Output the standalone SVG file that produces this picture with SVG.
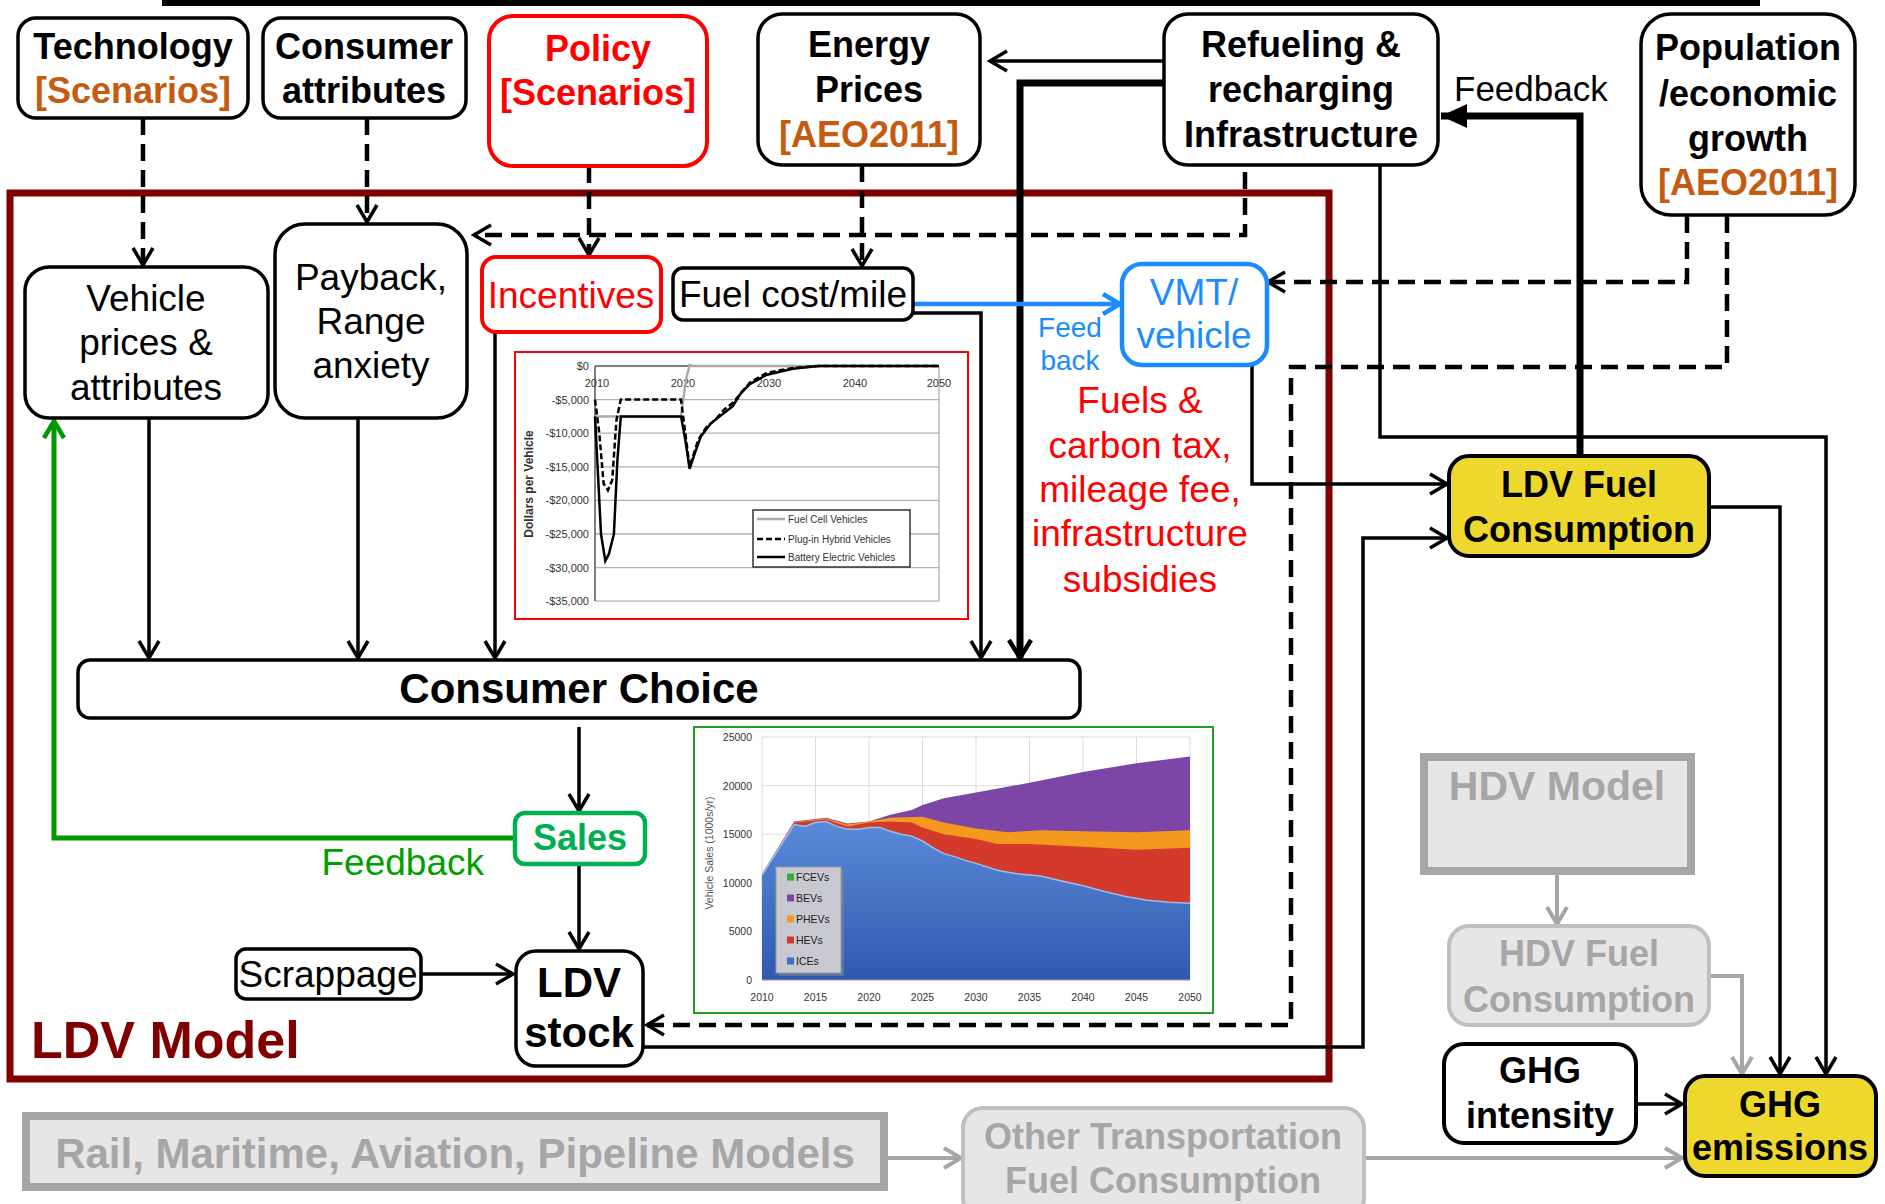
<svg xmlns="http://www.w3.org/2000/svg" width="1885" height="1204" viewBox="0 0 1885 1204">
<defs>
<style>
text{font-family:"Liberation Sans",Arial,sans-serif}
.bx{fill:#fff;stroke:#000;stroke-width:3.5}
.tb{font-weight:bold;font-size:36px;text-anchor:middle;fill:#000}
.tr{font-size:37px;text-anchor:middle;fill:#000}
.or{fill:#C55A11}
.red{fill:#FF0000}
.gt{fill:#A6A6A6;font-weight:bold;text-anchor:middle}
.ln{fill:none;stroke:#000;stroke-width:3.5}
.dash{fill:none;stroke:#000;stroke-width:4.5;stroke-dasharray:17 9}
.thick{fill:none;stroke:#000;stroke-width:7}
.gry{fill:none;stroke:#A6A6A6;stroke-width:4}
.ax{font-size:11px;fill:#333}
.ax2{font-size:10.5px;fill:#333}
.grid{stroke:#b0b0b0;stroke-width:1.3}
.grid2{stroke:#dcdcdc;stroke-width:1}
</style>
<marker id="ah" markerUnits="userSpaceOnUse" markerWidth="24" markerHeight="26" viewBox="0 0 24 26" refX="21" refY="13" orient="auto"><path d="M4,3 L21,13 L4,23" fill="none" stroke="#000" stroke-width="3.5"/></marker>
<marker id="ahk" markerUnits="userSpaceOnUse" markerWidth="26" markerHeight="28" viewBox="0 0 26 28" refX="22" refY="14" orient="auto"><path d="M4,3 L22,14 L4,25" fill="none" stroke="#000" stroke-width="4.5"/></marker>
<marker id="ahf" markerUnits="userSpaceOnUse" markerWidth="28" markerHeight="26" viewBox="0 0 28 26" refX="26" refY="13" orient="auto"><path d="M0,1 L26,13 L0,25 Z" fill="#000"/></marker>
<marker id="ahb" markerUnits="userSpaceOnUse" markerWidth="24" markerHeight="26" viewBox="0 0 24 26" refX="21" refY="13" orient="auto"><path d="M4,3 L21,13 L4,23" fill="none" stroke="#1A8CFF" stroke-width="4.5"/></marker>
<marker id="ahg" markerUnits="userSpaceOnUse" markerWidth="24" markerHeight="26" viewBox="0 0 24 26" refX="21" refY="13" orient="auto"><path d="M4,3 L21,13 L4,23" fill="none" stroke="#009900" stroke-width="4.5"/></marker>
<marker id="ahgr" markerUnits="userSpaceOnUse" markerWidth="24" markerHeight="26" viewBox="0 0 24 26" refX="21" refY="13" orient="auto"><path d="M4,3 L21,13 L4,23" fill="none" stroke="#A6A6A6" stroke-width="4"/></marker>
<linearGradient id="ice" x1="0" y1="0" x2="0" y2="1"><stop offset="0" stop-color="#5A8AD8"/><stop offset="1" stop-color="#3059AE"/></linearGradient>
</defs>
<rect x="0" y="0" width="1885" height="1204" fill="#fff"/>
<rect x="162" y="0" width="1598" height="6" fill="#000"/>

<!-- LDV model frame -->
<g id="ldv-model">
<rect x="10" y="193" width="1319" height="886" fill="none" stroke="#800000" stroke-width="7"/>
<text x="31" y="1058" font-size="52" font-weight="bold" fill="#800000">LDV Model</text>
</g>

<!-- Incentives chart -->
<g id="incentive-chart">
<rect x="515" y="352" width="453" height="267" fill="#fff" stroke="#FF0000" stroke-width="2"/>
<g class="grid">
<line x1="595" y1="399.6" x2="939" y2="399.6"/><line x1="595" y1="433.2" x2="939" y2="433.2"/><line x1="595" y1="466.8" x2="939" y2="466.8"/><line x1="595" y1="500.4" x2="939" y2="500.4"/><line x1="595" y1="534" x2="939" y2="534"/><line x1="595" y1="567.6" x2="939" y2="567.6"/><line x1="595" y1="601.2" x2="939" y2="601.2"/>
<line x1="939" y1="366" x2="939" y2="601"/>
</g>
<line x1="595" y1="366" x2="939" y2="366" stroke="#555" stroke-width="1.5"/>
<line x1="595" y1="366" x2="595" y2="601" stroke="#555" stroke-width="1.5"/>
<g class="ax" text-anchor="end">
<text x="589" y="370">$0</text><text x="589" y="403.6">-$5,000</text><text x="589" y="437.2">-$10,000</text><text x="589" y="470.8">-$15,000</text><text x="589" y="504.4">-$20,000</text><text x="589" y="538">-$25,000</text><text x="589" y="571.6">-$30,000</text><text x="589" y="605.2">-$35,000</text>
</g>
<g class="ax" text-anchor="middle">
<text x="597" y="387">2010</text><text x="683" y="387">2020</text><text x="769" y="387">2030</text><text x="855" y="387">2040</text><text x="939" y="387">2050</text>
</g>
<text x="0" y="0" transform="translate(533,484) rotate(-90)" font-size="12" font-weight="bold" fill="#333" text-anchor="middle">Dollars per Vehicle</text>
<polyline points="595,416.4 681,416.4 686,379.4 689.6,365 693,366 939,366" fill="none" stroke="#aaa" stroke-width="2.5"/>
<polyline points="595,399.6 599.3,433.2 603.6,483.6 607.9,490.3 612.2,480.2 616.5,419.8 620.8,399.6 681,399.6 685.3,433.2 689.6,466.8 693.9,453.4 698.2,439.9 706.8,426.5 715.4,419.8 724,409.7 732.6,403 741.2,392.9 749.8,382.8 767,372.7 792.8,368 818.6,366 939,366" fill="none" stroke="#000" stroke-width="2.5" stroke-dasharray="6 3"/>
<polyline points="595,416.4 597.6,466.8 601,534 605.3,560.9 608.8,554.2 613.9,534 617.4,460.1 620.8,416.4 681,416.4 685.3,439.9 689.6,468.8 694.8,453.4 700.8,436.6 711.1,423.1 724,413 732.6,406.3 741.2,392.9 749.8,384.1 767,374.7 792.8,368.7 818.6,366 939,366" fill="none" stroke="#000" stroke-width="2.5"/>
<rect x="753" y="510" width="157" height="57" fill="#fff" stroke="#333" stroke-width="1.5"/>
<line x1="757" y1="519" x2="785" y2="519" stroke="#aaa" stroke-width="2.5"/>
<line x1="757" y1="539" x2="785" y2="539" stroke="#000" stroke-width="2.5" stroke-dasharray="6 3"/>
<line x1="757" y1="557" x2="785" y2="557" stroke="#000" stroke-width="2.5"/>
<g font-size="10" fill="#333"><text x="788" y="522.5">Fuel Cell Vehicles</text><text x="788" y="542.5">Plug-in Hybrid Vehicles</text><text x="788" y="560.5">Battery Electric Vehicles</text></g>
</g>

<!-- Sales chart -->
<g id="sales-chart">
<rect x="694" y="727" width="519" height="286" fill="#fff" stroke="#22A022" stroke-width="2"/>
<g class="grid2">
<line x1="762" y1="737" x2="1190" y2="737"/><line x1="762" y1="785.6" x2="1190" y2="785.6"/><line x1="762" y1="834.2" x2="1190" y2="834.2"/><line x1="762" y1="882.8" x2="1190" y2="882.8"/><line x1="762" y1="931.4" x2="1190" y2="931.4"/>
<line x1="815.5" y1="737" x2="815.5" y2="980"/><line x1="869" y1="737" x2="869" y2="980"/><line x1="922.5" y1="737" x2="922.5" y2="980"/><line x1="976" y1="737" x2="976" y2="980"/><line x1="1029.5" y1="737" x2="1029.5" y2="980"/><line x1="1083" y1="737" x2="1083" y2="980"/><line x1="1136.5" y1="737" x2="1136.5" y2="980"/><line x1="1190" y1="737" x2="1190" y2="980"/><line x1="762" y1="737" x2="762" y2="980"/>
</g>
<path d="M762,874 L794.1,821.6 L826.2,817.7 L847.6,823.5 L869,821.6 L890.4,814.8 L911.8,809.9 L922.5,805 L943.9,798.2 L976,792.4 L1029.5,782.7 L1083,772 L1136.5,763.2 L1190,756.4 L1190,980 L762,980 Z" fill="#7D46A6"/>
<path d="M762,874 L794.1,822 L826.2,818.6 L847.6,824.5 L869,821.6 L890.4,817.7 L922.5,816.7 L943.9,822.5 L976,828.4 L1008.1,832.3 L1040.2,830.3 L1083,831.3 L1136.5,832.3 L1190,830.3 L1190,980 L762,980 Z" fill="#F39A1E"/>
<path d="M762,874 L794.1,822.5 L815.5,820.6 L826.2,819.6 L847.6,826.4 L869,822.5 L890.4,821.6 L911.8,822.5 L922.5,827.4 L943.9,834.2 L976,839.1 L997.4,843.9 L1029.5,843.9 L1083,846.8 L1136.5,849.8 L1190,847.8 L1190,980 L762,980 Z" fill="#D43A2C"/>
<path d="M762,875 L794.1,824.5 L804.8,826.4 L815.5,822.5 L826.2,821.6 L836.9,826.4 L847.6,829.3 L858.3,829.3 L869,827.4 L879.7,827.4 L890.4,831.3 L901.1,834.2 L911.8,836.1 L922.5,841 L933.2,847.8 L943.9,853.6 L954.6,856.6 L965.3,860.4 L976,863.4 L997.4,870.2 L1018.8,874.1 L1040.2,876 L1061.6,880.9 L1083,885.7 L1104.4,891.5 L1125.8,896.4 L1147.2,900.3 L1168.6,902.2 L1190,903.2 L1190,980 L762,980 Z" fill="url(#ice)"/>
<polyline points="762,875 794.1,824.5 804.8,826.4 815.5,822.5 826.2,821.6 836.9,826.4 847.6,829.3 858.3,829.3 869,827.4 879.7,827.4 890.4,831.3 901.1,834.2 911.8,836.1 922.5,841 933.2,847.8 943.9,853.6 954.6,856.6 965.3,860.4 976,863.4 997.4,870.2 1018.8,874.1 1040.2,876 1061.6,880.9 1083,885.7 1104.4,891.5 1125.8,896.4 1147.2,900.3 1168.6,902.2 1190,903.2" fill="none" stroke="#9BBCF0" stroke-width="1.5"/>
<line x1="762" y1="980" x2="1190" y2="980" stroke="#999" stroke-width="1.2"/>
<g class="ax2" text-anchor="end">
<text x="752" y="984">0</text><text x="752" y="935.4">5000</text><text x="752" y="886.8">10000</text><text x="752" y="838.2">15000</text><text x="752" y="789.6">20000</text><text x="752" y="741">25000</text>
</g>
<g class="ax2" text-anchor="middle">
<text x="762" y="1001">2010</text><text x="815.5" y="1001">2015</text><text x="869" y="1001">2020</text><text x="922.5" y="1001">2025</text><text x="976" y="1001">2030</text><text x="1029.5" y="1001">2035</text><text x="1083" y="1001">2040</text><text x="1136.5" y="1001">2045</text><text x="1190" y="1001">2050</text>
</g>
<text x="0" y="0" transform="translate(713,853) rotate(-90)" font-size="10.5" fill="#555" text-anchor="middle">Vehicle Sales (1000s/yr)</text>
<rect x="779" y="870" width="65" height="106" fill="#888" opacity="0.5"/>
<rect x="776" y="867" width="65" height="106" fill="#C8C8D0" stroke="#9a9aa2" stroke-width="1"/>
<rect x="787" y="873.5" width="7" height="7" fill="#3BAA3B"/>
<rect x="787" y="894.5" width="7" height="7" fill="#7D46A6"/>
<rect x="787" y="915.5" width="7" height="7" fill="#F39A1E"/>
<rect x="787" y="936.5" width="7" height="7" fill="#D43A2C"/>
<rect x="787" y="957.5" width="7" height="7" fill="#3F6FC6"/>
<g font-size="10.5" fill="#222"><text x="796" y="881">FCEVs</text><text x="796" y="902">BEVs</text><text x="796" y="923">PHEVs</text><text x="796" y="944">HEVs</text><text x="796" y="965">ICEs</text></g>
</g>

<!-- Connectors -->
<g id="connectors">
<path class="dash" d="M143,118 V265" marker-end="url(#ah)"/>
<path class="dash" d="M367,118 V222" marker-end="url(#ah)"/>
<path class="dash" d="M589,166 V255" marker-end="url(#ah)"/>
<path class="dash" d="M862,165 V266" marker-end="url(#ah)"/>
<path class="dash" d="M1245,172 V235 H474" marker-end="url(#ah)"/>
<path class="dash" d="M1687,216 V282 H1268" marker-end="url(#ah)"/>
<path class="dash" d="M1727,216 V367 H1291 V1025 H647" marker-end="url(#ah)"/>
<path class="ln" d="M1164,61 H990" marker-end="url(#ah)"/>
<path class="thick" d="M1164,83 H1020 V658" marker-end="url(#ahk)"/>
<path class="thick" d="M1580,456 V116 H1441" marker-end="url(#ahf)"/>
<path class="ln" d="M1380,165 V437 H1826 V1074" marker-end="url(#ah)"/>
<path class="ln" d="M1709,507 H1780 V1074" marker-end="url(#ah)"/>
<path class="ln" d="M1252,365 V484 H1447" marker-end="url(#ah)"/>
<path class="ln" d="M643,1047 H1363 V538 H1447" marker-end="url(#ah)"/>
<path d="M913,304 H1120" fill="none" stroke="#1A8CFF" stroke-width="4.5" marker-end="url(#ahb)"/>
<path class="ln" d="M913,313 H981 V658" marker-end="url(#ah)"/>
<path class="ln" d="M495,332 V658" marker-end="url(#ah)"/>
<path class="ln" d="M149,418 V658" marker-end="url(#ah)"/>
<path class="ln" d="M358,418 V658" marker-end="url(#ah)"/>
<path class="ln" d="M579,727 V811" marker-end="url(#ah)"/>
<path class="ln" d="M579,864 V949" marker-end="url(#ah)"/>
<path d="M513,838 H54 V421" fill="none" stroke="#009900" stroke-width="5" marker-end="url(#ahg)"/>
<path class="ln" d="M421,974 H513" marker-end="url(#ah)"/>
<path class="gry" d="M1557,875 V924" marker-end="url(#ahgr)"/>
<path class="gry" d="M1710,976 H1742 V1074" marker-end="url(#ahgr)"/>
<path class="ln" d="M1637,1104 H1682" marker-end="url(#ah)"/>
<path class="gry" d="M1364,1158 H1682" marker-end="url(#ahgr)"/>
<path class="gry" d="M887,1158 H961" marker-end="url(#ahgr)"/>
<text x="1454" y="101" font-size="35" fill="#000">Feedback</text>
<text x="484" y="875" font-size="37" fill="#00A000" text-anchor="end">Feedback</text>
<text x="1070" y="337" font-size="28" fill="#1A8CFF" text-anchor="middle">Feed</text>
<text x="1070" y="370" font-size="28" fill="#1A8CFF" text-anchor="middle">back</text>
<g font-size="37" fill="#FF0000" text-anchor="middle">
<text x="1140" y="413">Fuels &amp;</text>
<text x="1140" y="458">carbon tax,</text>
<text x="1140" y="502">mileage fee,</text>
<text x="1140" y="546">infrastructure</text>
<text x="1140" y="592">subsidies</text>
</g>
</g>

<!-- Nodes -->
<g id="technology"><rect class="bx" x="18" y="18" width="230" height="100" rx="18"/>
<text class="tb" x="133" y="59">Technology</text><text class="tb or" x="133" y="103">[Scenarios]</text></g>
<g id="consumer-attributes"><rect class="bx" x="263" y="18" width="203" height="100" rx="18"/>
<text class="tb" x="364" y="59">Consumer</text><text class="tb" x="364" y="103">attributes</text></g>
<g id="policy"><rect x="489" y="16" width="218" height="150" rx="24" fill="#fff" stroke="#FF0000" stroke-width="4"/>
<text class="tb red" x="598" y="61">Policy</text><text class="tb red" x="598" y="105">[Scenarios]</text></g>
<g id="energy-prices"><rect class="bx" x="758" y="14" width="222" height="151" rx="24"/>
<text class="tb" x="869" y="57">Energy</text><text class="tb" x="869" y="102">Prices</text><text class="tb or" x="869" y="147">[AEO2011]</text></g>
<g id="refueling"><rect class="bx" x="1164" y="14" width="274" height="151" rx="24"/>
<text class="tb" x="1301" y="57">Refueling &amp;</text><text class="tb" x="1301" y="102">recharging</text><text class="tb" x="1301" y="147">Infrastructure</text></g>
<g id="population"><rect class="bx" x="1641" y="14" width="214" height="201" rx="30"/>
<text class="tb" x="1748" y="60">Population</text><text class="tb" x="1748" y="106">/economic</text><text class="tb" x="1748" y="151">growth</text><text class="tb or" x="1748" y="195">[AEO2011]</text></g>

<g id="vehicle-prices"><rect class="bx" x="25" y="267" width="243" height="151" rx="24"/>
<text class="tr" x="146" y="311">Vehicle</text><text class="tr" x="146" y="355">prices &amp;</text><text class="tr" x="146" y="400">attributes</text></g>
<g id="payback"><rect class="bx" x="275" y="224" width="192" height="194" rx="30"/>
<text class="tr" x="371" y="290">Payback,</text><text class="tr" x="371" y="334">Range</text><text class="tr" x="371" y="378">anxiety</text></g>
<g id="incentives"><rect x="482" y="257" width="179" height="75" rx="14" fill="#fff" stroke="#FF0000" stroke-width="4"/>
<text class="tr red" x="571" y="308">Incentives</text></g>
<g id="fuel-cost"><rect class="bx" x="673" y="268" width="240" height="52" rx="10"/>
<text class="tr" x="793" y="307">Fuel cost/mile</text></g>
<g id="vmt"><rect x="1122" y="264" width="145" height="101" rx="20" fill="#fff" stroke="#1A8CFF" stroke-width="4.5"/>
<text class="tr" x="1194" y="305" style="fill:#1A8CFF">VMT/</text><text class="tr" x="1194" y="348" style="fill:#1A8CFF">vehicle</text></g>
<g id="consumer-choice"><rect class="bx" x="78" y="660" width="1002" height="58" rx="12"/>
<text class="tb" x="579" y="703" style="font-size:42px">Consumer Choice</text></g>
<g id="sales"><rect x="515" y="813" width="130" height="51" rx="10" fill="#fff" stroke="#00B050" stroke-width="4.5"/>
<text class="tb" x="580" y="850" style="fill:#00B050">Sales</text></g>
<g id="scrappage"><rect class="bx" x="236" y="949" width="185" height="50" rx="10"/>
<text class="tr" x="328" y="987">Scrappage</text></g>
<g id="ldv-stock"><rect class="bx" x="516" y="951" width="127" height="115" rx="20"/>
<text class="tb" x="579" y="997" style="font-size:42px">LDV</text><text class="tb" x="579" y="1047" style="font-size:42px">stock</text></g>

<g id="ldv-fuel"><rect x="1449" y="456" width="260" height="100" rx="20" fill="#EED82E" stroke="#000" stroke-width="4"/>
<text class="tb" x="1579" y="497">LDV Fuel</text><text class="tb" x="1579" y="542">Consumption</text></g>
<g id="hdv-model"><rect x="1424" y="757" width="267" height="114" fill="#E6E6E6" stroke="#A6A6A6" stroke-width="8"/>
<text class="gt" x="1557" y="800" font-size="41">HDV Model</text></g>
<g id="hdv-fuel"><rect x="1449" y="926" width="260" height="99" rx="20" fill="#E6E6E6" stroke="#BFBFBF" stroke-width="4"/>
<text class="gt" x="1579" y="966" font-size="36">HDV Fuel</text><text class="gt" x="1579" y="1012" font-size="36">Consumption</text></g>
<g id="ghg-intensity"><rect class="bx" x="1444" y="1044" width="192" height="99" rx="20" style="stroke-width:4"/>
<text class="tb" x="1540" y="1083">GHG</text><text class="tb" x="1540" y="1128">intensity</text></g>
<g id="ghg-emissions"><rect x="1685" y="1076" width="191" height="100" rx="20" fill="#EED82E" stroke="#000" stroke-width="4"/>
<text class="tb" x="1780" y="1117">GHG</text><text class="tb" x="1780" y="1160">emissions</text></g>
<g id="rail"><rect x="26" y="1116" width="858" height="71" fill="#E6E6E6" stroke="#A6A6A6" stroke-width="8"/>
<text class="gt" x="455" y="1168" font-size="42">Rail, Maritime, Aviation, Pipeline Models</text></g>
<g id="other-transport"><rect x="963" y="1108" width="401" height="110" rx="20" fill="#E6E6E6" stroke="#BFBFBF" stroke-width="4"/>
<text class="gt" x="1163" y="1149" font-size="36">Other Transportation</text><text class="gt" x="1163" y="1193" font-size="36">Fuel Consumption</text></g>
</svg>
